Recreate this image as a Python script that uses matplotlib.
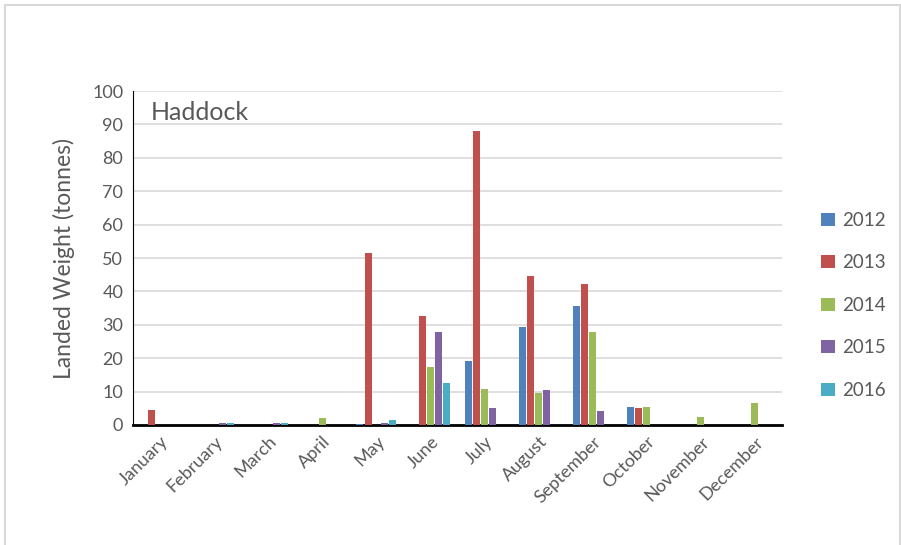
import numpy as np
import matplotlib
matplotlib.use('Agg')
import matplotlib.pyplot as plt
from matplotlib.patches import Rectangle

plt.rcParams['font.family'] = ['Lato', 'DejaVu Sans']

months = ['January', 'February', 'March', 'April', 'May', 'June', 'July',
          'August', 'September', 'October', 'November', 'December']
years = ['2012', '2013', '2014', '2015', '2016']
w2012 = [0, 0, 0, 0, 0.2, 0, 19.2, 29.2, 35.5, 5.5, 0.1, 0]
w2013 = [4.5, 0, 0, 0, 51.5, 32.5, 88.0, 44.5, 42.2, 5.2, 0, 0]
w2014 = [0, 0, 0.1, 2.2, 0, 17.5, 10.7, 9.7, 27.8, 5.3, 2.5, 6.7]
w2015 = [0, 0.5, 0.7, 0, 0.7, 27.7, 5.2, 10.5, 4.3, 0, 0, 0]
w2016 = [0, 0.7, 0.7, 0, 1.5, 12.5, 0, 0, 0, 0, 0, 0]
colors = ['#4F81BD', '#C0504D', '#9BBB59', '#8064A2', '#4BACC6']

series = [w2012, w2013, w2014, w2015, w2016]
text_col = '#595959'

fig = plt.figure(figsize=(9.01, 5.45), dpi=100)
ax = fig.add_axes([0.1476, 0.2202, 0.7203, 0.6128])

x = np.arange(len(months))
pitch = 0.152
width = 0.13
for i, (vals, yr, c) in enumerate(zip(series, years, colors)):
    ax.bar(x + (i - 2) * pitch, vals, width, color=c, label=yr, zorder=3)

ax.set_xlim(-0.5, len(months) - 0.5)
ax.set_ylim(0, 100)
ax.set_yticks(range(0, 101, 10))
ax.yaxis.grid(True, color='#D9D9D9', linewidth=1.2, zorder=0)
ax.set_xticks(x)
ax.set_xticklabels(months, rotation=45, ha='right', rotation_mode='anchor',
                   fontsize=13, color=text_col)
ax.tick_params(axis='x', length=0, pad=6)
ax.tick_params(axis='y', length=0, labelsize=13, colors=text_col, pad=7)
ax.set_ylabel('Landed Weight (tonnes)', fontsize=16.5, color=text_col, labelpad=12)
for s in ['top', 'right']:
    ax.spines[s].set_visible(False)
ax.spines['left'].set_color('black')
ax.spines['bottom'].set_color('black')
ax.spines['bottom'].set_linewidth(2)
ax.text(0.028, 0.935, 'Haddock', transform=ax.transAxes, fontsize=18,
        color=text_col, va='center')

leg = fig.legend(loc='upper left', bbox_to_anchor=(0.893, 0.642), frameon=False,
                 fontsize=13.5, labelspacing=1.36, handlelength=0.7,
                 handleheight=0.7, handletextpad=0.4, labelcolor=text_col)

fig.patches.append(Rectangle((0.005, -0.01), 0.994, 1.0, transform=fig.transFigure,
                             fill=False, edgecolor='#D9D9D9', linewidth=1.5))

fig.savefig('out.png', dpi=100)
